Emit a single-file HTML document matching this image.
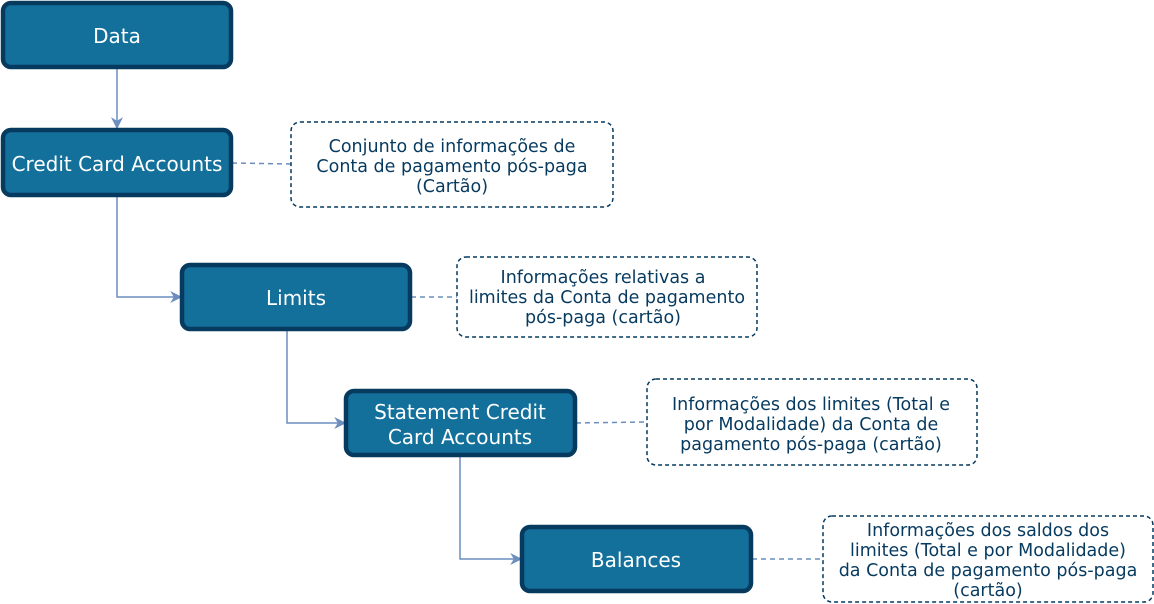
<!DOCTYPE html>
<html><head><meta charset="utf-8"><style>
html,body{margin:0;padding:0;background:#fff;}
svg{display:block}
text{font-family:"DejaVu Sans","Liberation Sans",sans-serif;}
</style></head><body>
<svg width="1154" height="604" viewBox="0 0 1154 604" xmlns="http://www.w3.org/2000/svg">
<defs><marker id="a" viewBox="0 0 10 10" refX="9" refY="5" markerWidth="12" markerHeight="12" orient="auto" markerUnits="userSpaceOnUse"><path d="M0,0 L10,5 L0,10 L3,5 Z" fill="#6c8ebf"/></marker></defs>
<g fill="none" stroke="#6c8ebf" stroke-width="1.5">
<path d="M117,68 V128" marker-end="url(#a)"/>
<path d="M117,196 V297 H181" marker-end="url(#a)"/>
<path d="M287,330 V423 H345" marker-end="url(#a)"/>
<path d="M460,456 V559 H521" marker-end="url(#a)"/>
<g stroke-dasharray="5,4"><path d="M232,163 L291,164"/><path d="M411,297 H457"/><path d="M576,423 L647,422"/><path d="M752,559 H823"/></g>
</g>
<g fill="#13709b" stroke="#073a5f" stroke-width="4.5">
<rect x="3" y="3" width="228" height="64" rx="8"/>
<rect x="3" y="130" width="228" height="65" rx="8"/>
<rect x="182" y="265" width="228" height="64" rx="8"/>
<rect x="346" y="391" width="229" height="64" rx="8"/>
<rect x="522" y="527" width="229" height="64" rx="8"/>
</g>
<g fill="#fff" font-size="20" text-anchor="middle">
<text x="117" y="43">Data</text>
<text x="117" y="171">Credit Card Accounts</text>
<text x="296" y="305">Limits</text>
<text x="460" y="419">Statement Credit</text>
<text x="460" y="444">Card Accounts</text>
<text x="636" y="567">Balances</text>
</g>
<g fill="none" stroke="#073a5f" stroke-width="1.5" stroke-dasharray="4,3">
<rect x="291" y="122" width="322" height="85" rx="9"/>
<rect x="457" y="257" width="300" height="80" rx="9"/>
<rect x="647" y="379" width="330" height="86" rx="9"/>
<rect x="823" y="516" width="330" height="86" rx="9"/>
</g>
<g fill="#073a5f" font-size="17.5" text-anchor="middle">
<text x="452" y="152">Conjunto de  informações de</text>
<text x="452" y="172">Conta de pagamento pós-paga</text>
<text x="452" y="192">(Cartão)</text>
<text x="603" y="283">Informações relativas a</text>
<text x="607" y="303">limites da Conta de pagamento</text>
<text x="603" y="323">pós-paga (cartão)</text>
<text x="811" y="410">Informações dos limites (Total e</text>
<text x="811" y="430">por Modalidade) da Conta de</text>
<text x="811" y="450">pagamento pós-paga (cartão)</text>
<text x="988" y="536">Informações dos saldos dos</text>
<text x="988" y="556">limites (Total e por Modalidade)</text>
<text x="988" y="576">da Conta de pagamento pós-paga</text>
<text x="988" y="596">(cartão)</text>
</g>
</svg>
</body></html>
